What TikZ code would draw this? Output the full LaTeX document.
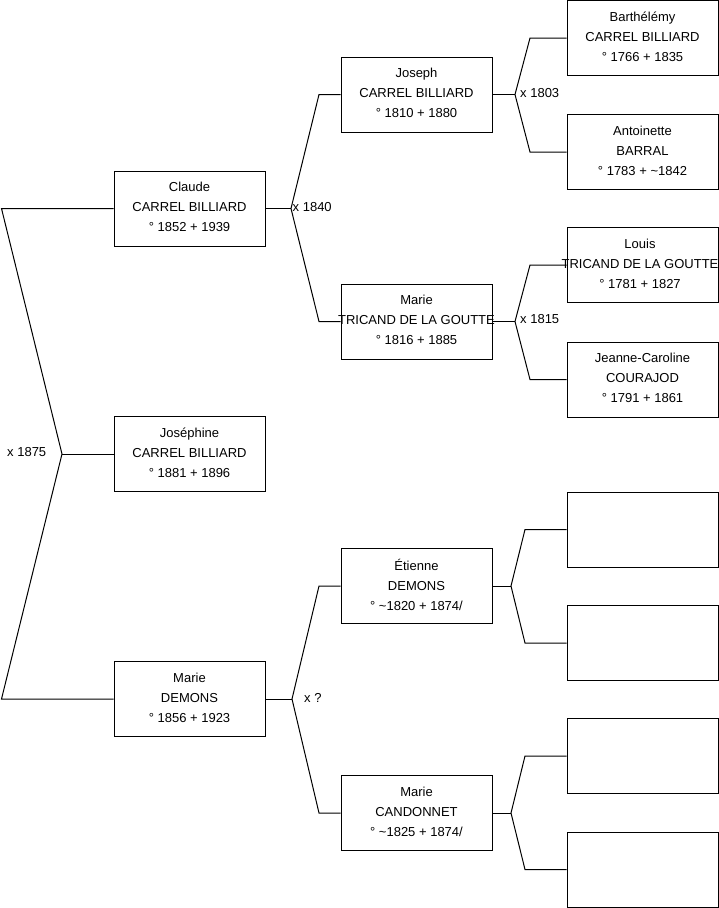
\documentclass[tikz,border=0pt]{standalone}
\usepackage{fontspec}
\setmainfont{Liberation Sans}
\begin{document}
\begin{tikzpicture}[x=1pt,y=-1pt,
  pbox/.style={draw=black, line width=1pt, minimum width=151pt, minimum height=75pt, inner sep=0pt, fill=white},
  ptext/.style={align=center, inner sep=0pt, font=\fontsize{13}{20}\selectfont, yshift=1.5pt},
  mlabel/.style={anchor=west, inner sep=0pt, font=\fontsize{13}{16}\selectfont},
  link/.style={draw=black, line width=1pt}]
\useasboundingbox (0,0) rectangle (719,908);
% generation 1
\node[pbox] (claude) at (189.5,208.5) {};
\node[pbox] (josephine) at (189.5,454) {};
\node[pbox] (marieD) at (189.5,699) {};
% generation 2
\node[pbox] (joseph) at (416.5,94.5) {};
\node[pbox] (marieT) at (416.5,321.5) {};
\node[pbox] (etienne) at (416.5,586) {};
\node[pbox] (candonnet) at (416.5,813) {};
% generation 3
\node[pbox] (barthelemy) at (642.5,38) {};
\node[pbox] (antoinette) at (642.5,152) {};
\node[pbox] (louis) at (642.5,265) {};
\node[pbox] (jeanne) at (642.5,379.5) {};
\node[pbox] (e1) at (642.5,529.5) {};
\node[pbox] (e2) at (642.5,643) {};
\node[pbox] (e3) at (642.5,756) {};
\node[pbox] (e4) at (642.5,869.5) {};
% texts
\node[ptext] at (claude) {Claude\\CARREL BILLIARD\\° 1852 + 1939};
\node[ptext] at (josephine) {Joséphine\\CARREL BILLIARD\\° 1881 + 1896};
\node[ptext] at (marieD) {Marie\\DEMONS\\° 1856 + 1923};
\node[ptext] at (joseph) {Joseph\\CARREL BILLIARD\\° 1810 + 1880};
\node[ptext] at (marieT) {Marie\\TRICAND DE LA GOUTTE\\° 1816 + 1885};
\node[ptext] at (etienne) {Étienne\\DEMONS\\° \textasciitilde1820 + 1874/};
\node[ptext] at (candonnet) {Marie\\CANDONNET\\° \textasciitilde1825 + 1874/};
\node[ptext] at (barthelemy) {Barthélémy\\CARREL BILLIARD\\° 1766 + 1835};
\node[ptext] at (antoinette) {Antoinette\\BARRAL\\° 1783 + \textasciitilde1842};
\node[ptext, xshift=-2.5pt] at (louis) {Louis\\TRICAND DE LA GOUTTE\\° 1781 + 1827};
\node[ptext] at (jeanne) {Jeanne-Caroline\\COURAJOD\\° 1791 + 1861};
% fork coordinates
\coordinate (v0) at (62,454);
\coordinate (c0a) at (1.5,208.5);
\coordinate (c0b) at (1.5,699);
\coordinate (v1) at (291,208.5);
\coordinate (c1a) at (319,94.5);
\coordinate (c1b) at (319,321.5);
\coordinate (v2) at (515,94.5);
\coordinate (c2a) at (530,38);
\coordinate (c2b) at (530,152);
\coordinate (v3) at (515,321.5);
\coordinate (c3a) at (530,265);
\coordinate (c3b) at (530,379.5);
\coordinate (v4) at (292,699);
\coordinate (c4a) at (319,586);
\coordinate (c4b) at (319,813);
\coordinate (v5) at (511,586);
\coordinate (c5a) at (525,529.5);
\coordinate (c5b) at (525,643);
\coordinate (v6) at (511,813);
\coordinate (c6a) at (525,756);
\coordinate (c6b) at (525,869.5);
% connectors
\draw[link] (claude.west) -- (c0a) -- (v0) -- (c0b) -- (marieD.west);
\draw[link] (v0) -- (josephine.west);
\draw[link] (joseph.west) -- (c1a) -- (v1) -- (c1b) -- (marieT.west);
\draw[link] (claude.east) -- (v1);
\draw[link] (barthelemy.west) -- (c2a) -- (v2) -- (c2b) -- (antoinette.west);
\draw[link] (joseph.east) -- (v2);
\draw[link] (louis.west) -- (c3a) -- (v3) -- (c3b) -- (jeanne.west);
\draw[link] (marieT.east) -- (v3);
\draw[link] (etienne.west) -- (c4a) -- (v4) -- (c4b) -- (candonnet.west);
\draw[link] (marieD.east) -- (v4);
\draw[link] (e1.west) -- (c5a) -- (v5) -- (c5b) -- (e2.west);
\draw[link] (etienne.east) -- (v5);
\draw[link] (e3.west) -- (c6a) -- (v6) -- (c6b) -- (e4.west);
\draw[link] (candonnet.east) -- (v6);
% marriage labels
\node[mlabel] (m1875) at (7,452) {x 1875};
\node[mlabel] (m1840) at (292.5,207.5) {x 1840};
\node[mlabel] (m1803) at (520,93) {x 1803};
\node[mlabel] (m1815) at (520,319.5) {x 1815};
\node[mlabel] (mq) at (304,698) {x ?};
\end{tikzpicture}
\end{document}
